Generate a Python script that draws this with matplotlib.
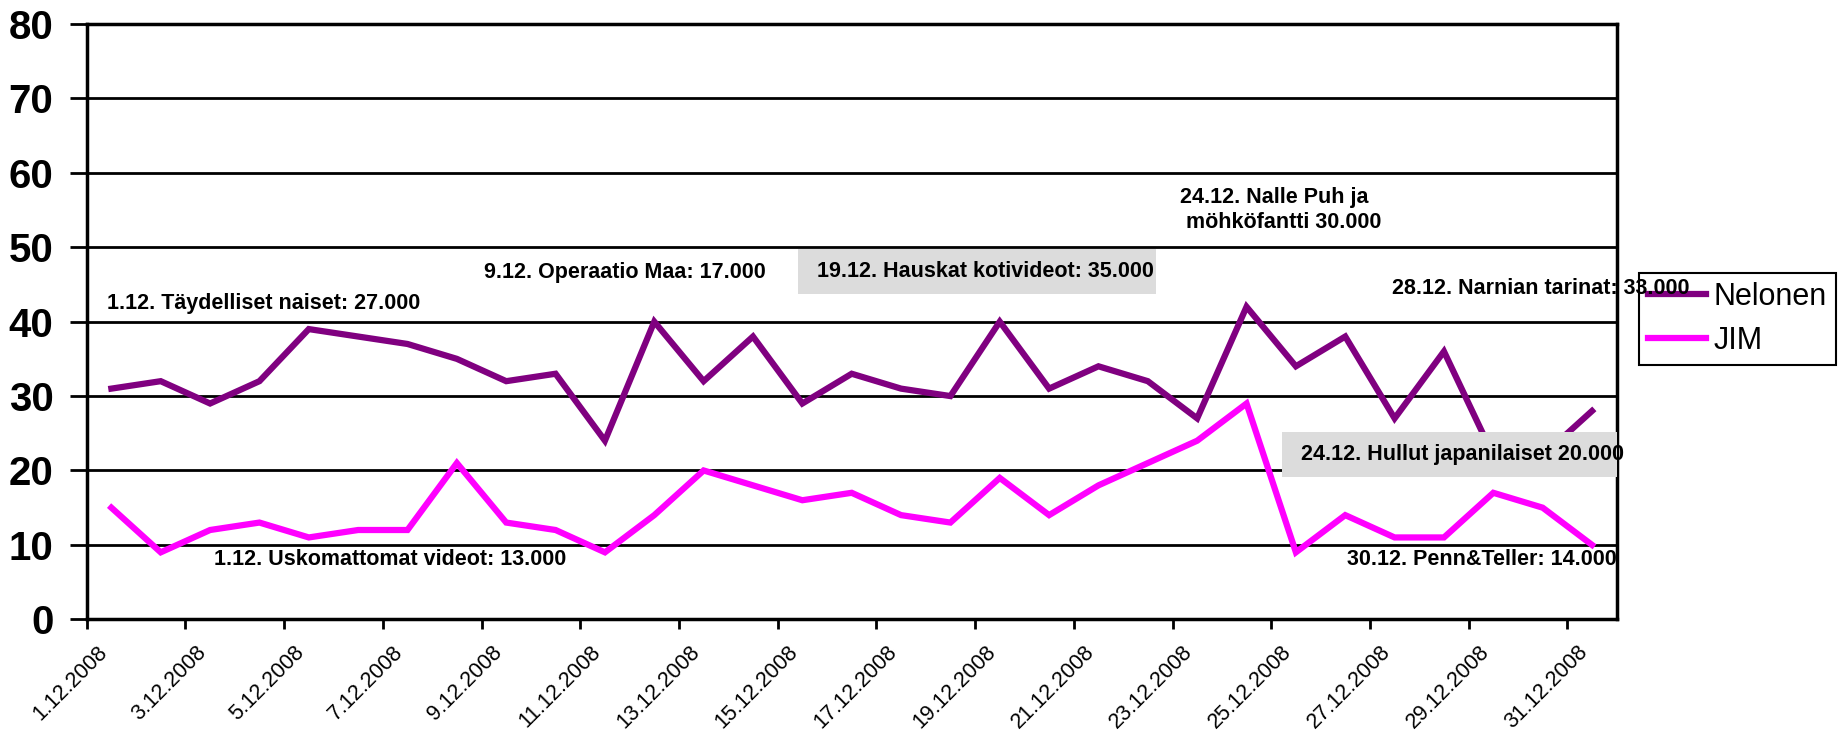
import matplotlib.pyplot as plt
import matplotlib.transforms as mtransforms
from matplotlib.patches import Rectangle
import numpy as np

plt.rcParams['font.family'] = ['Liberation Sans', 'DejaVu Sans']

# data
days = [str(d) + ".12.2008" for d in range(1, 32)]
nelonen = [31, 32, 29, 32, 39, 38, 37, 35, 32, 33, 24, 40, 32, 38, 29, 33,
           31, 30, 40, 31, 34, 32, 27, 42, 34, 38, 27, 36, 22, 22, 28]
jim = [15, 9, 12, 13, 11, 12, 12, 21, 13, 12, 9, 14, 20, 18, 16, 17,
       14, 13, 19, 14, 18, 21, 24, 29, 9, 14, 11, 11, 17, 15, 10]

notes = [
    ("1.12. Täydelliset naiset: 27.000", -0.09, 42.4, False),
    ("9.12. Operaatio Maa: 17.000", 7.55, 46.6, False),
    ("19.12. Hauskat kotivideot: 35.000", 14.29, 46.7, True),
    ("24.12. Nalle Puh ja\n möhköfantti 30.000", 21.66, 55.0, False),
    ("28.12. Narnian tarinat: 33.000", 25.95, 44.5, False),
    ("24.12. Hullut japanilaiset 20.000", 24.1, 22.2, True),
    ("30.12. Penn&Teller: 14.000", 25.03, 8.0, False),
    ("1.12. Uskomattomat videot: 13.000", 2.07, 8.0, False),
]

fig = plt.figure(figsize=(18.4, 7.34), dpi=100)
ax = fig.add_axes([86.7 / 1840, 1 - 619.3 / 734, 1530 / 1840, 595.3 / 734])

x = np.arange(len(days))
ax.plot(x, nelonen, color='#800080', lw=4.5, label='Nelonen', solid_joinstyle='miter', zorder=3)
ax.plot(x, jim, color='#FF00FF', lw=4.5, label='JIM', solid_joinstyle='miter', zorder=3)

ax.set_xlim(-0.5, len(days) - 0.5)
ax.set_ylim(0, 80)
ax.set_yticks(range(0, 81, 10))
ax.yaxis.grid(True, color='black', lw=2)
ax.set_axisbelow(True)

ax.set_xticks(np.arange(-0.5, len(days) - 0.5, 2))
ax.set_xticklabels([])
ax.set_xticks(x[::2], minor=True)
ax.set_xticklabels(days[::2], minor=True, rotation=45, ha='right', fontsize=15.5)
shift = mtransforms.ScaledTranslation(-12 / 100, 0, fig.dpi_scale_trans)
for lab in ax.get_xticklabels(minor=True):
    lab.set_transform(lab.get_transform() + shift)
ax.tick_params(axis='x', which='major', direction='out', length=7, width=2)
ax.tick_params(axis='x', which='minor', length=0, pad=16)
ax.tick_params(axis='y', direction='out', length=12, width=2, pad=12, labelsize=29)
for lab in ax.get_yticklabels():
    lab.set_fontweight('bold')

for s in ax.spines.values():
    s.set_linewidth(2.5)
    s.set_color('black')

boxed_texts = []
for txt, tx, ty, boxed in notes:
    t = ax.text(tx, ty, txt, fontsize=15.5, fontweight='bold', ha='left', va='center', zorder=7)
    if boxed:
        boxed_texts.append(t)

leg = ax.legend(loc='upper left', bbox_to_anchor=(1639 / 1840, 1 - 272.7 / 734),
                bbox_transform=fig.transFigure,
                fontsize=22, frameon=True, fancybox=False, edgecolor='black',
                framealpha=1, borderaxespad=0, borderpad=0.3, handlelength=1.9,
                handletextpad=0.25, labelspacing=0.45)
leg.get_frame().set_linewidth(1.5)
leg.set_zorder(5)

# grey boxes behind two notes: more room on the left than on the right
fig.canvas.draw()
for t in boxed_texts:
    bb = t.get_window_extent()
    cy = (bb.y0 + bb.y1) / 2
    ax.add_patch(Rectangle((bb.x0 - 19, cy - 22.5), bb.width + 21, 45,
                           transform=mtransforms.IdentityTransform(),
                           facecolor='#dcdcdc', edgecolor='none', zorder=6))

fig.savefig('out.png', dpi=100)
